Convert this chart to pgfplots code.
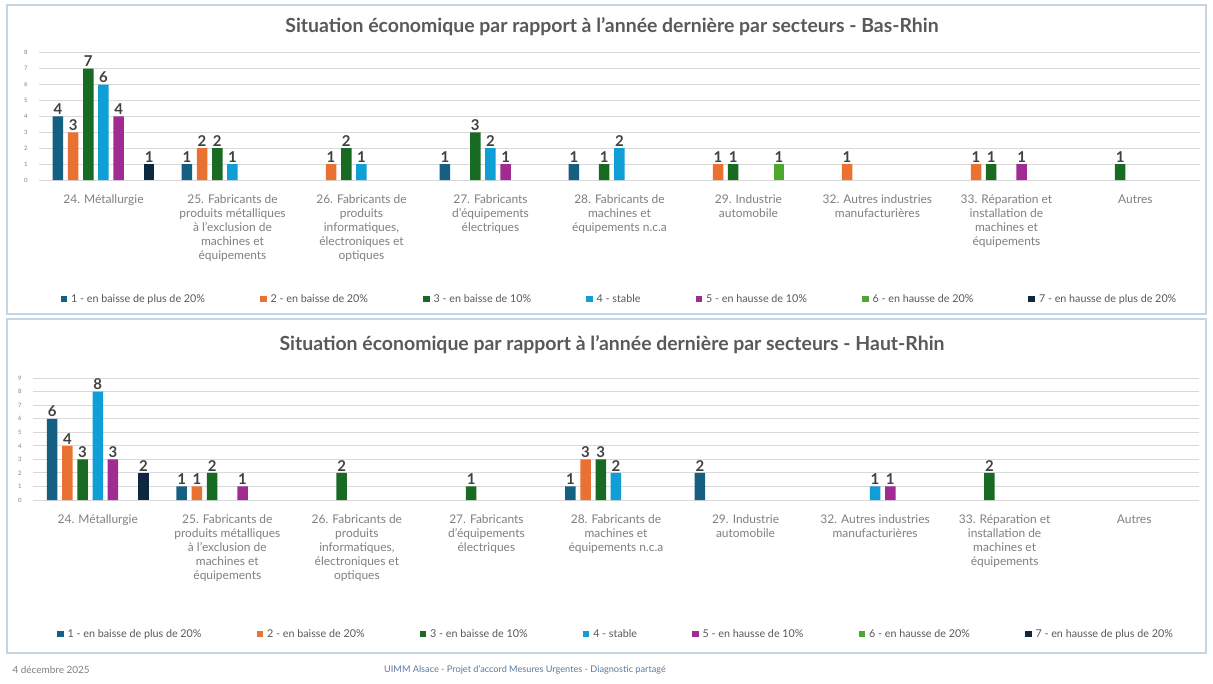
\documentclass[border=0pt]{standalone}
\usepackage{fontspec}
\setmainfont{Lato}
\usepackage{pgfplots}
\pgfplotsset{compat=1.18}
\definecolor{c1}{HTML}{156082}
\definecolor{c2}{HTML}{E97132}
\definecolor{c3}{HTML}{196B24}
\definecolor{c4}{HTML}{0F9ED5}
\definecolor{c5}{HTML}{A02B93}
\definecolor{c6}{HTML}{4EA72E}
\definecolor{c7}{HTML}{0E2841}
\definecolor{txt}{HTML}{595959}
\definecolor{lbl}{HTML}{404040}
\definecolor{tick}{HTML}{808080}
\definecolor{gridc}{HTML}{D9D9D9}
\definecolor{frame}{HTML}{C5D6E2}
\definecolor{foot}{HTML}{5B7B9E}
\pgfplotsset{
 myaxis/.style={
  scale only axis, anchor=south west,
  ybar, bar width=10.5bp,
  xmin=-0.5, xmax=8.5, ymin=0,
  xtick={0,...,8},
  xticklabels={24. Métallurgie,
    {25. Fabricants de\\produits métalliques\\à l'exclusion de\\machines et\\équipements},
    {26. Fabricants de\\produits\\informatiques,\\électroniques et\\optiques},
    {27. Fabricants\\d'équipements\\électriques},
    {28. Fabricants de\\machines et\\équipements n.c.a},
    {29. Industrie\\automobile},
    {32. Autres industries\\manufacturières},
    {33. Réparation et\\installation de\\machines et\\équipements},
    Autres},
  xticklabel style={align=center, font=\fontsize{12}{14.2}\selectfont, text=tick, yshift=-11bp},
  ytick distance=1,
  yticklabel style={font=\fontsize{6}{6}\selectfont, text=tick, xshift=-8bp},
  /pgf/number format/assume math mode=true,
  ymajorgrids, grid style={gridc, line width=0.9bp},
  axis line style={draw=none}, major tick length=0pt,
  nodes near coords,
  nodes near coords style={font=\bfseries\fontsize{15}{15}\selectfont, text=lbl, inner sep=1.5bp},
  every axis plot post/.append style={draw=none,
    legend image code/.code={\fill[##1,draw=none] (0bp,-3.3bp) rectangle (6.6bp,3.3bp);}},
  legend columns=7,
  legend style={draw=none, fill=none, anchor=center,
    font=\fontsize{10.8}{10.8}\selectfont, text=txt,
    /tikz/every odd column/.append style={column sep=2bp},
    /tikz/every even column/.append style={column sep=53bp}},
  clip=false,
 },
 s1/.style={fill=c1, bar shift=-45.6bp},
 s2/.style={fill=c2, bar shift=-30.4bp},
 s3/.style={fill=c3, bar shift=-15.2bp},
 s4/.style={fill=c4, bar shift=0bp},
 s5/.style={fill=c5, bar shift=15.2bp},
 s6/.style={fill=c6, bar shift=30.4bp},
 s7/.style={fill=c7, bar shift=45.6bp},
}
\begin{document}
\begin{tikzpicture}
\fill[white] (0,0) rectangle (1213bp,-684bp);
\draw[frame, line width=1.2bp] (7bp,-5bp) rectangle (1206bp,-314bp);
\draw[frame, line width=1.2bp] (7bp,-319bp) rectangle (1206bp,-653bp);
\node[font=\bfseries\fontsize{19.5}{19.5}\selectfont, text=txt] at (612bp,-27bp)
  {Situation économique par rapport à l'année dernière par secteurs - Bas-Rhin};
\node[font=\bfseries\fontsize{19.5}{19.5}\selectfont, text=txt] at (612bp,-345bp)
  {Situation économique par rapport à l'année dernière par secteurs - Haut-Rhin};
\node[font=\fontsize{10}{10}\selectfont, text=tick, anchor=west] at (9bp,-670bp) {4 décembre 2025};
\node[font=\fontsize{9.2}{9.2}\selectfont, text=foot] at (525bp,-670bp) {UIMM Alsace - Projet d'accord Mesures Urgentes - Diagnostic partagé};

\begin{axis}[myaxis, at={(39bp,-180bp)}, width=1161bp, height=127.3bp, ymax=8,
  legend style={at={(0.5,-0.935)}}]
\addplot[s1] coordinates {(0,4) (1,1) (3,1) (4,1)};
\addlegendentry{1 - en baisse de plus de 20\%}
\addplot[s2] coordinates {(0,3) (1,2) (2,1) (5,1) (6,1) (7,1)};
\addlegendentry{2 - en baisse de 20\%}
\addplot[s3] coordinates {(0,7) (1,2) (2,2) (3,3) (4,1) (5,1) (7,1) (8,1)};
\addlegendentry{3 - en baisse de 10\%}
\addplot[s4] coordinates {(0,6) (1,1) (2,1) (3,2) (4,2)};
\addlegendentry{4 - stable}
\addplot[s5] coordinates {(0,4) (3,1) (7,1)};
\addlegendentry{5 - en hausse de 10\%}
\addplot[s6] coordinates {(5,1)};
\addlegendentry{6 - en hausse de 20\%}
\addplot[s7] coordinates {(0,1)};
\addlegendentry{7 - en hausse de plus de 20\%}
\end{axis}

\begin{axis}[myaxis, at={(33bp,-500bp)}, width=1166bp, height=121.8bp, ymax=9,
  legend style={at={(0.5,-1.10)}}]
\addplot[s1] coordinates {(0,6) (1,1) (4,1) (5,2)};
\addlegendentry{1 - en baisse de plus de 20\%}
\addplot[s2] coordinates {(0,4) (1,1) (4,3)};
\addlegendentry{2 - en baisse de 20\%}
\addplot[s3] coordinates {(0,3) (1,2) (2,2) (3,1) (4,3) (7,2)};
\addlegendentry{3 - en baisse de 10\%}
\addplot[s4] coordinates {(0,8) (4,2) (6,1)};
\addlegendentry{4 - stable}
\addplot[s5] coordinates {(0,3) (1,1) (6,1)};
\addlegendentry{5 - en hausse de 10\%}
\addlegendimage{fill=c6, draw=none, legend image code/.code={\fill[fill=c6,draw=none] (0bp,-3.3bp) rectangle (6.6bp,3.3bp);}}
\addlegendentry{6 - en hausse de 20\%}
\addplot[s7] coordinates {(0,2)};
\addlegendentry{7 - en hausse de plus de 20\%}
\end{axis}
\end{tikzpicture}
\end{document}
